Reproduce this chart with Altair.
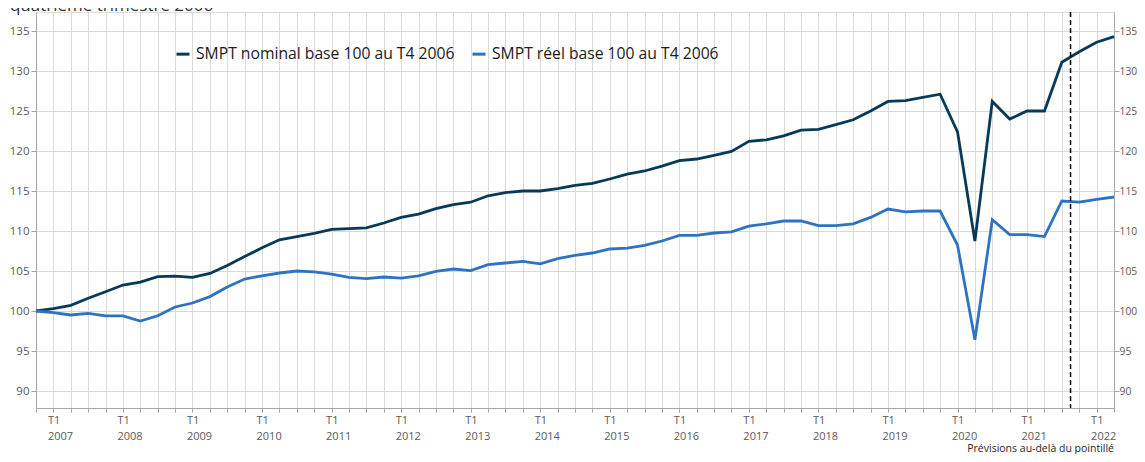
import altair as alt
import pandas as pd

# ---- data -------------------------------------------------------------
quarters = ["T4 2006"] + [f"T{q} {y}" for y in range(2007, 2023) for q in range(1, 5)][:62]

nominal = [
    100.0, 100.3, 100.7, 101.6, 102.4, 103.25, 103.6, 104.3, 104.35, 104.2,
    104.7, 105.7, 106.8, 107.9, 108.9, 109.3, 109.7, 110.2, 110.3, 110.4,
    111.0, 111.7, 112.1, 112.8, 113.3, 113.6, 114.4, 114.8, 115.0, 115.0,
    115.3, 115.7, 115.95, 116.5, 117.1, 117.5, 118.1, 118.8, 119.0, 119.45,
    119.95, 121.2, 121.4, 121.9, 122.6, 122.7, 123.3, 123.9, 125.0, 126.2,
    126.3, 126.7, 127.1, 122.4, 108.75, 126.2, 124.0, 125.0, 125.0, 131.1,
    132.4, 133.6, 134.3,
]

reel = [
    100.0, 99.8, 99.5, 99.7, 99.4, 99.4, 98.75, 99.4, 100.5, 101.0,
    101.8, 103.0, 104.0, 104.4, 104.75, 105.0, 104.9, 104.6, 104.2, 104.05,
    104.25, 104.1, 104.4, 104.95, 105.25, 105.05, 105.8, 106.0, 106.2, 105.9,
    106.55, 106.95, 107.25, 107.75, 107.85, 108.2, 108.75, 109.45, 109.45, 109.75,
    109.9, 110.6, 110.9, 111.25, 111.25, 110.67, 110.67, 110.9, 111.7, 112.75,
    112.4, 112.5, 112.5, 108.25, 96.4, 111.4, 109.55, 109.55, 109.3, 113.75,
    113.6, 113.95, 114.25,
]

series_names = ["SMPT nominal base 100 au T4 2006", "SMPT réel base 100 au T4 2006"]
series_colors = ["#063a5b", "#2e73c1"]
y_ticks = [90, 95, 100, 105, 110, 115, 120, 125, 130, 135]
y_domain = [87.875, 137.375]
forecast_start = [59.5]
title_text = "- quatrième trimestre 2006"
note_text = "Prévisions au-delà du pointillé"

rows = []
for i, q in enumerate(quarters):
    rows.append({"idx": i, "trimestre": q, "serie": series_names[0], "valeur": nominal[i]})
    rows.append({"idx": i, "trimestre": q, "serie": series_names[1], "valeur": reel[i]})
df = pd.DataFrame(rows)

FONT = "Open Sans"
n_last = len(quarters) - 1

x_scale = alt.Scale(domain=[0, n_last], nice=False, zero=False)
y_scale = alt.Scale(domain=y_domain, nice=False, zero=False)

x_axis = alt.Axis(
    values=list(range(len(quarters))),
    labelExpr="datum.value % 4 == 1 ? ['T1', '' + (2006 + (datum.value + 3) / 4)] : ''",
    grid=True, gridColor="#d9d9d9", gridWidth=1,
    tickSize=4, tickColor="#a6a6a6", domainColor="#a6a6a6",
    labelColor="#595959", labelFontSize=11, labelFont=FONT,
    labelAlign="left", labelOffset=-6, labelBaseline="top", labelPadding=2,
    labelLineHeight=16, labelOverlap=False, labelFlush=False, title=None,
)

left_axis = alt.Axis(
    orient="left", values=y_ticks, grid=True, gridColor="#d9d9d9", gridWidth=1,
    tickSize=5, tickColor="#a6a6a6", domainColor="#a6a6a6",
    labelColor="#595959", labelFontSize=11.5, labelFont=FONT, labelPadding=2, title=None,
)
right_axis = alt.Axis(
    orient="right", values=y_ticks, grid=False,
    tickSize=5, tickColor="#a6a6a6", domainColor="#a6a6a6",
    labelColor="#595959", labelFontSize=10.3, labelFont=FONT, labelPadding=0, title=None,
)

legend = alt.Legend(
    orient="none", legendX=139, legendY=34, direction="horizontal", title=None,
    symbolType="stroke", symbolSize=169, symbolStrokeWidth=3,
    labelFontSize=15.7, labelFont=FONT, labelColor="#1a1a1a", labelLimit=500,
    labelOffset=5, columnPadding=11, padding=0,
)

lines = alt.Chart(df).mark_line(strokeWidth=2.8).encode(
    x=alt.X("idx:Q", scale=x_scale, axis=x_axis),
    y=alt.Y("valeur:Q", scale=y_scale, axis=left_axis),
    color=alt.Color("serie:N", scale=alt.Scale(domain=series_names, range=series_colors),
                    legend=legend, sort=series_names),
    detail="serie:N",
)

right_layer = alt.Chart(df).mark_point(opacity=0).encode(
    x=alt.X("idx:Q", scale=x_scale, axis=x_axis),
    y=alt.Y("valeur:Q", scale=y_scale, axis=right_axis),
)

rule = alt.Chart(pd.DataFrame({"x": forecast_start})).mark_rule(
    color="black", strokeDash=[5, 3], strokeWidth=1.5
).encode(x=alt.X("x:Q", scale=x_scale, axis=x_axis))

title_layer = alt.Chart(pd.DataFrame({"t": [title_text]})).mark_text(
    align="left", baseline="alphabetic", fontSize=17, font=FONT, color="#333333"
).encode(x=alt.value(-36), y=alt.value(-1), text="t:N")

note_layer = alt.Chart(pd.DataFrame({"t": [note_text]})).mark_text(
    align="right", baseline="middle", fontSize=10.5, font=FONT, color="#262626"
).encode(x=alt.value(1078), y=alt.value(437), text="t:N")

chart = (
    alt.layer(lines, right_layer, rule, title_layer, note_layer)
    .resolve_axis(y="independent")
    .properties(
        width=1078, height=396,
        autosize=alt.AutoSizeParams(type="none"),
        padding={"left": 28, "top": 4, "right": 23, "bottom": 46},
    )
    .configure_view(stroke=None)
    .configure(font=FONT)
)

chart.save("out.html", embed_options={"renderer": "svg", "actions": False})
